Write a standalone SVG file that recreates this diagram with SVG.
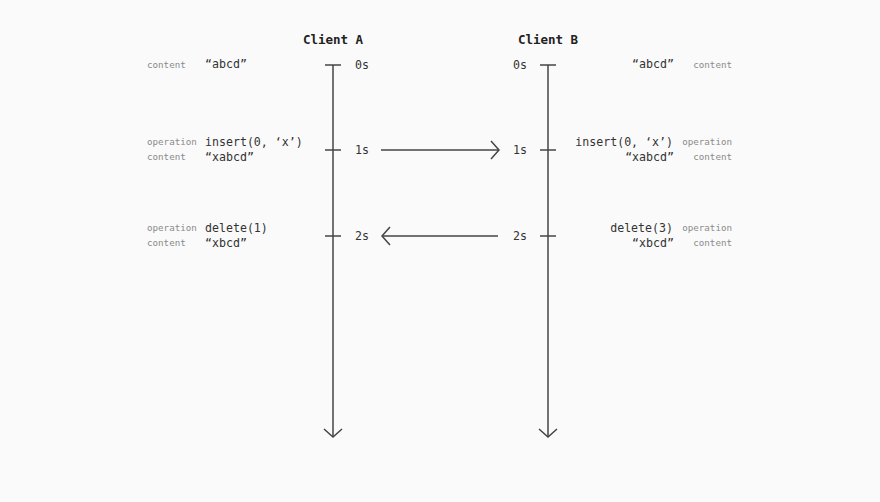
<svg xmlns="http://www.w3.org/2000/svg" width="880" height="502" viewBox="0 0 880 502">
<style>
text{font-family:"DejaVu Sans Mono","Liberation Mono",monospace;fill:#333}
.t{font-size:12.5px;font-weight:bold;text-anchor:middle;fill:#222}
.v{font-size:11.6px}
.s{font-size:9.2px;fill:#8a8a8a}
.e{text-anchor:end}
.ln{stroke:#444;stroke-width:1.5;fill:none}
</style>
<defs>
<marker id="ah" viewBox="0 0 10 20" refX="9" refY="10" markerWidth="10" markerHeight="20" markerUnits="userSpaceOnUse" orient="auto">
<path d="M1,1 L9,10 L1,19" fill="none" stroke="#444" stroke-width="1.5"/>
</marker>
</defs>
<rect width="880" height="502" fill="#fafafa"/>
<g id="clientA">
<text class="t" x="333" y="44">Client A</text>
<line class="ln" x1="333" y1="65" x2="333" y2="437" marker-end="url(#ah)"/>
<line class="ln" x1="325" y1="65" x2="341" y2="65"/>
<line class="ln" x1="325" y1="150" x2="341" y2="150"/>
<line class="ln" x1="325" y1="236" x2="341" y2="236"/>
<text class="v" x="355" y="69">0s</text>
<text class="v" x="355" y="154">1s</text>
<text class="v" x="355" y="240">2s</text>
<text class="s" x="147" y="68">content</text>
<text class="v" x="205" y="68">“abcd”</text>
<text class="s" x="147" y="145">operation</text>
<text class="v" x="205" y="146">insert(0, ‘x’)</text>
<text class="s" x="147" y="160">content</text>
<text class="v" x="205" y="161">“xabcd”</text>
<text class="s" x="147" y="231">operation</text>
<text class="v" x="205" y="232">delete(1)</text>
<text class="s" x="147" y="246">content</text>
<text class="v" x="205" y="247">“xbcd”</text>
</g>
<g id="clientB">
<text class="t" x="548" y="44">Client B</text>
<line class="ln" x1="548" y1="65" x2="548" y2="437" marker-end="url(#ah)"/>
<line class="ln" x1="540" y1="65" x2="556" y2="65"/>
<line class="ln" x1="540" y1="150" x2="556" y2="150"/>
<line class="ln" x1="540" y1="236" x2="556" y2="236"/>
<text class="v e" x="527" y="69">0s</text>
<text class="v e" x="527" y="154">1s</text>
<text class="v e" x="527" y="240">2s</text>
<text class="v e" x="674" y="68">“abcd”</text>
<text class="s e" x="732" y="68">content</text>
<text class="v e" x="673" y="146">insert(0, ‘x’)</text>
<text class="s e" x="732" y="145">operation</text>
<text class="v e" x="674" y="161">“xabcd”</text>
<text class="s e" x="732" y="160">content</text>
<text class="v e" x="673" y="232">delete(3)</text>
<text class="s e" x="732" y="231">operation</text>
<text class="v e" x="674" y="247">“xbcd”</text>
<text class="s e" x="732" y="246">content</text>
</g>
<g id="connectors">
<line class="ln" x1="381" y1="150" x2="499" y2="150" marker-end="url(#ah)"/>
<line class="ln" x1="498" y1="236" x2="382" y2="236" marker-end="url(#ah)"/>
</g>
</svg>
